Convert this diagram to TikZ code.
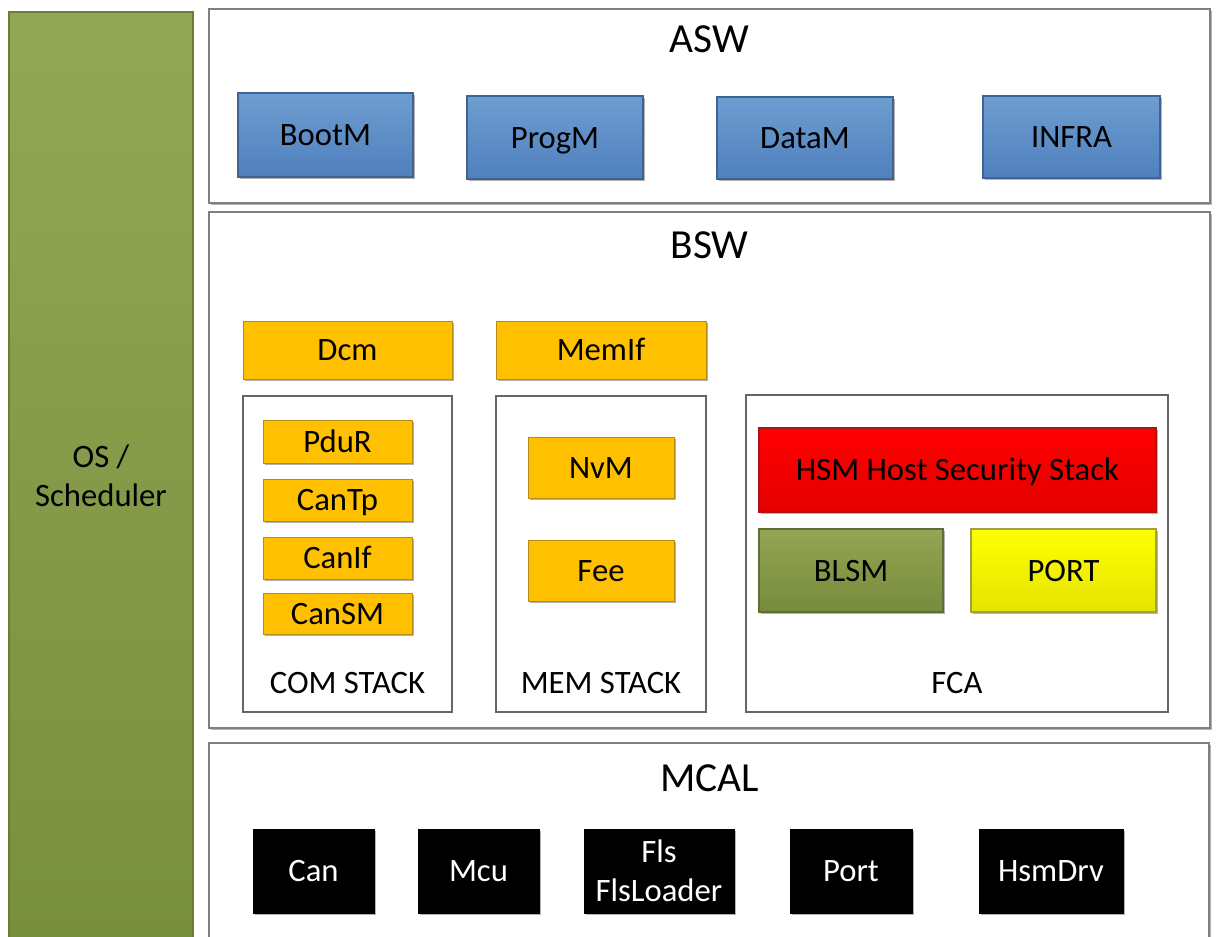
\documentclass[tikz,border=0pt]{standalone}
\usepackage{fontspec}
\setmainfont{Carlito}
\usetikzlibrary{shadows}

% palette
\definecolor{panelgray}{RGB}{128,128,128}
\definecolor{ostop}{RGB}{147,166,83}
\definecolor{osbot}{RGB}{120,143,62}
\definecolor{osline}{RGB}{105,125,52}
\definecolor{bluetop}{RGB}{110,157,208}
\definecolor{bluebot}{RGB}{80,128,190}
\definecolor{blueline}{RGB}{62,100,145}
\definecolor{amber}{RGB}{255,192,0}
\definecolor{amberline}{RGB}{180,140,30}
\definecolor{redtop}{RGB}{255,0,0}
\definecolor{redbot}{RGB}{228,0,0}
\definecolor{redline}{RGB}{170,20,20}
\definecolor{olivetop}{RGB}{148,165,84}
\definecolor{olivebot}{RGB}{118,139,60}
\definecolor{oliveline}{RGB}{95,110,55}
\definecolor{yeltop}{RGB}{255,255,0}
\definecolor{yelbot}{RGB}{228,228,0}
\definecolor{yelline}{RGB}{160,160,70}

\newcommand\lblfont{\fontsize{24.5pt}{29.4pt}\selectfont}
\newcommand\ttlfont{\fontsize{31pt}{37pt}\selectfont}

% one block from its corner coordinates: style, name, x1, y1, x2, y2, text
\newcommand\blk[7]{%
  \node[#1, minimum width={(#5-#3)*0.75pt}, minimum height={(#6-#4)*0.75pt}]
    (#2) at ({(#3+#5)/2},{(#4+#6)/2}) {#7};}

\tikzset{
  softshadow/.style={drop shadow={shadow xshift=1.5pt, shadow yshift=-1.5pt,
      opacity=0.3, fill=black}},
  blockbase/.style={rectangle, inner sep=0pt, font=\lblfont,
      text height=15.8pt, text depth=0pt, text=black},
  panel/.style={blockbase, draw=panelgray, line width=1.1pt, fill=white, softshadow},
  stackbox/.style={blockbase, draw=panelgray!80!black, line width=0.8pt, fill=white},
  osbar/.style={blockbase, draw=osline, line width=0.8pt,
      top color=ostop, bottom color=osbot, align=center,
      text height={}, text depth={}},
  bluebox/.style={blockbase, draw=blueline, line width=0.8pt,
      top color=bluetop, bottom color=bluebot, softshadow},
  amberbox/.style={blockbase, draw=amberline, line width=0.7pt, fill=amber, softshadow},
  redbox/.style={blockbase, draw=redline, line width=0.8pt,
      top color=redtop, bottom color=redbot, softshadow},
  olivebox/.style={blockbase, draw=oliveline, line width=0.8pt,
      top color=olivetop, bottom color=olivebot, softshadow},
  yelbox/.style={blockbase, draw=yelline, line width=0.8pt,
      top color=yeltop, bottom color=yelbot, softshadow},
  blackbox/.style={blockbase, draw=black, fill=black, text=white, softshadow},
  title/.style={font=\ttlfont, inner sep=0pt, anchor=base, text=black},
  stacklabel/.style={font=\lblfont, inner sep=0pt, anchor=base, text=black},
}

\begin{document}
\begin{tikzpicture}[x=0.75pt, y=-0.75pt]
  \clip (0,0) rectangle (1218,937);
  \fill[white] (0,0) rectangle (1218,937);

  % OS / Scheduler column
  \blk{osbar}{os}{9}{12}{193}{940}{OS /\\Scheduler}

  % ASW layer
  \blk{panel}{asw}{209}{9}{1210}{203}{}
  \node[title] (aswtitle) at (709.5,53) {ASW};
  \blk{bluebox}{bootm}{238}{93}{413}{177}{BootM}
  \blk{bluebox}{progm}{467}{96}{643}{179}{ProgM}
  \blk{bluebox}{datam}{717}{97}{893}{179}{DataM}
  \blk{bluebox}{infra}{983}{96}{1160}{178}{INFRA}

  % BSW layer
  \blk{panel}{bsw}{209}{212}{1210}{728}{}
  \node[title] (bswtitle) at (709.5,259) {BSW};
  \blk{amberbox}{dcm}{243}{321}{452}{379}{Dcm}
  \blk{amberbox}{memif}{496}{321}{706}{379}{MemIf}

  % communication stack
  \blk{stackbox}{comstack}{243}{396}{452}{712}{}
  \blk{amberbox}{pdur}{263}{420}{412}{463}{PduR}
  \blk{amberbox}{cantp}{263}{479}{412}{521}{CanTp}
  \blk{amberbox}{canif}{263}{537}{412}{579}{CanIf}
  \blk{amberbox}{cansm}{263}{593}{412}{634}{CanSM}
  \node[stacklabel] (comlbl) at (347.5,694) {COM STACK};

  % memory stack
  \blk{stackbox}{memstack}{496}{396}{706}{712}{}
  \blk{amberbox}{nvm}{528}{437}{674}{498}{NvM}
  \blk{amberbox}{fee}{528}{540}{674}{601}{Fee}
  \node[stacklabel] (memlbl) at (601,694) {MEM STACK};

  % FCA
  \blk{stackbox}{fca}{746}{395}{1168}{712}{}
  \blk{redbox}{hsm}{759}{428}{1156}{512}{HSM Host Security Stack}
  \blk{olivebox}{blsm}{759}{529}{943}{612}{BLSM}
  \blk{yelbox}{portfca}{971}{529}{1156}{612}{PORT}
  \node[stacklabel] (fcalbl) at (957,694) {FCA};

  % MCAL layer
  \blk{panel}{mcal}{209}{743}{1209}{960}{}
  \node[title] (mcaltitle) at (709.5,791) {MCAL};
  \blk{blackbox}{can}{253}{829}{374}{913}{Can}
  \blk{blackbox}{mcu}{418}{829}{539}{913}{Mcu}
  \blk{blackbox, align=center, text height={}, text depth={}}{fls}{584}{829}{734}{913}{Fls\\FlsLoader}
  \blk{blackbox}{port}{790}{829}{912}{913}{Port}
  \blk{blackbox}{hsmdrv}{979}{829}{1123}{913}{HsmDrv}
\end{tikzpicture}
\end{document}
